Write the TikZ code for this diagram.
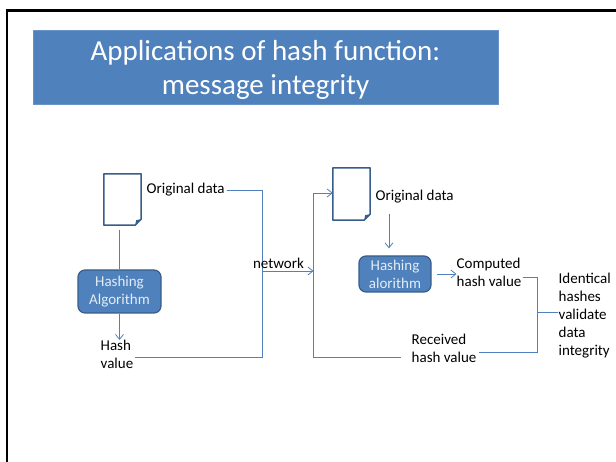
\documentclass[tikz,border=0pt]{standalone}
\usepackage{fontspec}
\setmainfont{Carlito}
\usetikzlibrary{arrows.meta,calc}

\definecolor{accent}{HTML}{4F81BD}
\definecolor{accentdark}{HTML}{385D8A}
\definecolor{boxtext}{HTML}{E4ECF5}

\tikzset{
  titlebox/.style={fill=accent, draw=accent!85!white, line width=0.6pt,
    minimum width=465pt, minimum height=74pt, inner sep=0pt},
  titletext/.style={text=white, align=center, inner sep=0pt,
    font=\fontsize{29}{34}\selectfont},
  docbox/.style={minimum width=37pt, minimum height=51pt, inner sep=0pt},
  docline/.style={draw=accentdark, line width=1.5pt, fill=white, line join=round},
  hashbox/.style={fill=accent, draw=accentdark, line width=1.2pt,
    rounded corners=7pt, text=boxtext, align=center, inner sep=0pt,
    font=\fontsize{15}{18}\selectfont},
  lbl/.style={align=left, inner sep=2pt, font=\fontsize{15}{18}\selectfont},
  link/.style={draw=accent, line width=0.9pt},
  arrowlink/.style={link, -{Straight Barb[length=5pt,width=8pt,line width=0.8pt]}},
}

% outline of a page with a folded lower right corner
\newcommand{\pageoutline}[1]{%
  \draw[docline] (#1.north west) -- (#1.north east)
    -- ([yshift=6pt]#1.south east) -- ([xshift=-6pt]#1.south east)
    -- (#1.south west) -- cycle;
  \fill[accentdark] ([yshift=6pt]#1.south east) -- ([xshift=-6pt]#1.south east)
    -- ([xshift=-5pt,yshift=5pt]#1.south east) -- cycle;
}

\begin{document}
\begin{tikzpicture}[x=1pt,y=-1pt]
\useasboundingbox (0,0) rectangle (616,462);

% slide frame
\draw[line width=2.6pt] (7,462) -- (7,10.5) -- (616,10.5);

% title
\node[titlebox] (title) at (265.5,67) {};
\node[titletext] (titletxt) at (265.5,70) {Applications of hash function:\\message integrity};

% sender side
\node[docbox] (doc1) at (122.5,199.5) {};
\pageoutline{doc1}
\node[lbl, anchor=west] (orig1) at (144.5,190) {Original data};
\node[hashbox, minimum width=83pt, minimum height=43pt] (hash1) at (119.5,291.5) {Hashing\\Algorithm};
\node[lbl, anchor=west] (hashval) at (98.5,354) {Hash\\value};
\coordinate (hashtip) at (119.5,340);

\draw[link, shorten <=5pt] (hash1.north |- doc1.south) -- (hash1.north);
\draw[arrowlink] (hash1.south) -- (hashtip);

% network path
\coordinate (bus1top) at (262,190);
\coordinate (bus1mid) at (262,271);
\coordinate (bus1bot) at (262,357);
\coordinate (bus2top) at (313.5,193);
\coordinate (bus2mid) at (313.5,271);
\coordinate (bus2bot) at (313.5,357);
\draw[link] (orig1.east) -- (bus1top) -- (bus1bot) -- (hashval.east |- bus1bot);
\draw[arrowlink] (bus1mid) -- (bus2mid);
\node[lbl, anchor=center] (net) at (278.5,263) {network};

% receiver side
\node[docbox, minimum height=52pt] (doc2) at (351.5,194) {};
\pageoutline{doc2}
\node[lbl, anchor=west] (orig2) at (373.5,197) {Original data};
\node[hashbox, minimum width=72pt, minimum height=36pt] (hash2) at (395,274) {Hashing\\alorithm};
\node[lbl, anchor=west] (comp) at (454.5,272) {Computed\\hash value};
\node[lbl, anchor=west] (recv) at (409.5,348.5) {Received\\hash value};
\node[lbl, anchor=west] (ident) at (556.5,315.5) {Identical\\hashes\\validate\\data\\integrity};

\draw[link] (bus2top) -- (bus2bot) -- ([xshift=-9pt]recv.west |- bus2bot);
\draw[arrowlink] (bus2top) -- (doc2.west |- bus2top);
\draw[arrowlink, shorten <=8pt, shorten >=7pt] (389,0 |- orig2.south) -- (389,0 |- hash2.north);
\draw[arrowlink, shorten <=5pt] (hash2.east) -- ([xshift=2pt]comp.west |- hash2.east);

% comparison bracket
\coordinate (cmptop) at (537,277);
\coordinate (cmpmid) at (537,312);
\coordinate (cmpbot) at (537,352);
\draw[link] ([xshift=-1pt]comp.east |- cmptop) -- (cmptop) -- (cmpbot) -- (recv.east |- cmpbot);
\draw[link] (cmpmid) -- ([xshift=1pt]ident.west |- cmpmid);
\end{tikzpicture}
\end{document}
